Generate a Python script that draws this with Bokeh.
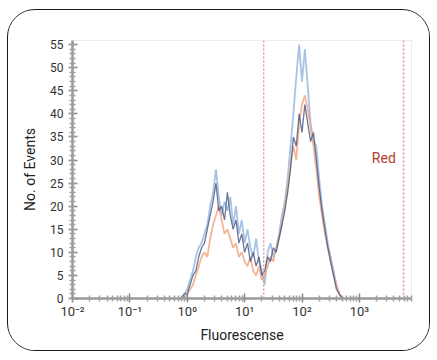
from bokeh.plotting import figure
from bokeh.embed import file_html
from bokeh.resources import INLINE
from bokeh.models import Span, Label, FixedTicker

# log10 bin positions of the histogram channels
bin_log = [-0.15, -0.10, -0.05, 0.00, 0.05, 0.10, 0.15, 0.20, 0.25, 0.30,
           0.35, 0.40, 0.45, 0.50, 0.55, 0.60, 0.65, 0.70, 0.75, 0.80,
           0.85, 0.90, 0.95, 1.00, 1.05, 1.10, 1.15, 1.20, 1.25, 1.30,
           1.35, 1.40, 1.45, 1.50, 1.55, 1.60, 1.65, 1.70, 1.75, 1.80,
           1.85, 1.90, 1.95, 2.00, 2.05, 2.10, 2.15, 2.20, 2.25, 2.30,
           2.35, 2.40, 2.45, 2.50, 2.55, 2.60, 2.65, 2.70]

blue = [0, 0, 1, 2, 4, 6, 9, 11, 12, 14,
        16, 20, 23, 28, 22, 18, 21, 19, 22, 16,
        20, 14, 17, 12, 15, 11, 9, 13, 8, 6,
        3, 10, 12, 9, 11, 14, 18, 21, 26, 33,
        40, 48, 55, 47, 54, 46, 38, 34, 33, 26,
        20, 16, 12, 9, 6, 3, 1, 0]

orange = [0, 0, 0, 1, 2, 3, 5, 7, 9, 10,
          9, 13, 16, 18, 20, 17, 14, 15, 13, 11,
          12, 9, 10, 8, 7, 9, 6, 5, 7, 4,
          5, 7, 9, 8, 11, 13, 16, 20, 24, 29,
          33, 30, 38, 42, 44, 41, 37, 33, 28, 22,
          18, 14, 11, 8, 5, 3, 1, 0]

navy = [0, 0, 1, 1, 3, 5, 6, 9, 11, 12,
        15, 18, 21, 25, 19, 20, 17, 23, 18, 15,
        17, 12, 14, 10, 12, 8, 10, 7, 9, 5,
        6, 9, 8, 11, 10, 13, 16, 19, 23, 28,
        35, 33, 40, 36, 42, 38, 34, 36, 30, 24,
        19, 15, 11, 8, 5, 2, 1, 0]

x_ticks = [0.01, 0.1, 1, 10, 100, 1000]
x_tick_labels = ["10⁻²", "10⁻¹", "10⁰", "10¹", "10²", "10³"]
y_ticks = [0, 5, 10, 15, 20, 25, 30, 35, 40, 45, 50, 55]
gate_positions = [21.5, 5900]
label_text = "Red"

FONT = "Roboto"

xs = [10 ** v for v in bin_log]

p = figure(width=423, height=342, x_axis_type="log",
           x_range=(0.01, 8100), y_range=(0, 55.9),
           output_backend="svg", toolbar_location=None,
           min_border_left=64, min_border_right=20,
           min_border_top=30, min_border_bottom=54)
p.styles = {"margin-left": "7px", "margin-top": "9px",
            "border": "1.5px solid #1a1a1a", "border-radius": "28px",
            "overflow": "hidden"}
p.background_fill_color = "white"
p.border_fill_color = "white"
p.outline_line_color = "#ececec"
p.xgrid.visible = False
p.ygrid.visible = False

for pos in gate_positions:
    p.add_layout(Span(location=pos, dimension="height", line_color="#d99a9a",
                      line_dash="2 2", line_width=1.5))

p.line(xs, blue, line_color="#9ebde3", line_width=1.8, line_alpha=0.9)
p.line(xs, orange, line_color="#f2a884", line_width=1.8, line_alpha=0.85)
p.line(xs, navy, line_color="#45557e", line_width=1.3, line_alpha=0.8)

p.add_layout(Label(x=1650, y=30.5, text=label_text, text_color="#b0402a",
                   text_font=FONT, text_font_size="14px", text_baseline="middle"))

p.xaxis.ticker = FixedTicker(ticks=x_ticks, minor_ticks=[m * 10 ** e for e in range(-2, 4) for m in range(2, 10)])
p.xaxis.major_label_overrides = {t: l for t, l in zip(x_ticks, x_tick_labels)}
p.yaxis.ticker = FixedTicker(ticks=y_ticks, minor_ticks=list(range(0, 56)))

for ax in (p.xaxis[0], p.yaxis[0]):
    ax.axis_line_color = "#9a9a9a"
    ax.axis_line_width = 2.5
    ax.major_tick_line_color = "#8a8a8a"
    ax.major_tick_line_width = 1.5
    ax.major_tick_in = 5
    ax.major_tick_out = 4
    ax.minor_tick_line_color = "#a0a0a0"
    ax.minor_tick_line_width = 1.5
    ax.minor_tick_in = 3
    ax.minor_tick_out = 3
    ax.major_label_text_font = FONT
    ax.major_label_text_font_size = "12px"
    ax.major_label_text_color = "#333333"
    ax.axis_label_text_font = FONT
    ax.axis_label_text_font_size = "14px"
    ax.axis_label_text_font_style = "normal"
    ax.axis_label_text_color = "#222222"

p.xaxis.major_label_text_font_size = "13px"
p.xaxis.axis_label = "Fluorescense"
p.yaxis.axis_label = "No. of Events"
p.xaxis.major_label_standoff = 1
p.yaxis.major_label_standoff = 5
p.xaxis.axis_label_standoff = 5
p.yaxis.axis_label_standoff = 9

open("out.html", "w").write(file_html(p, INLINE))
